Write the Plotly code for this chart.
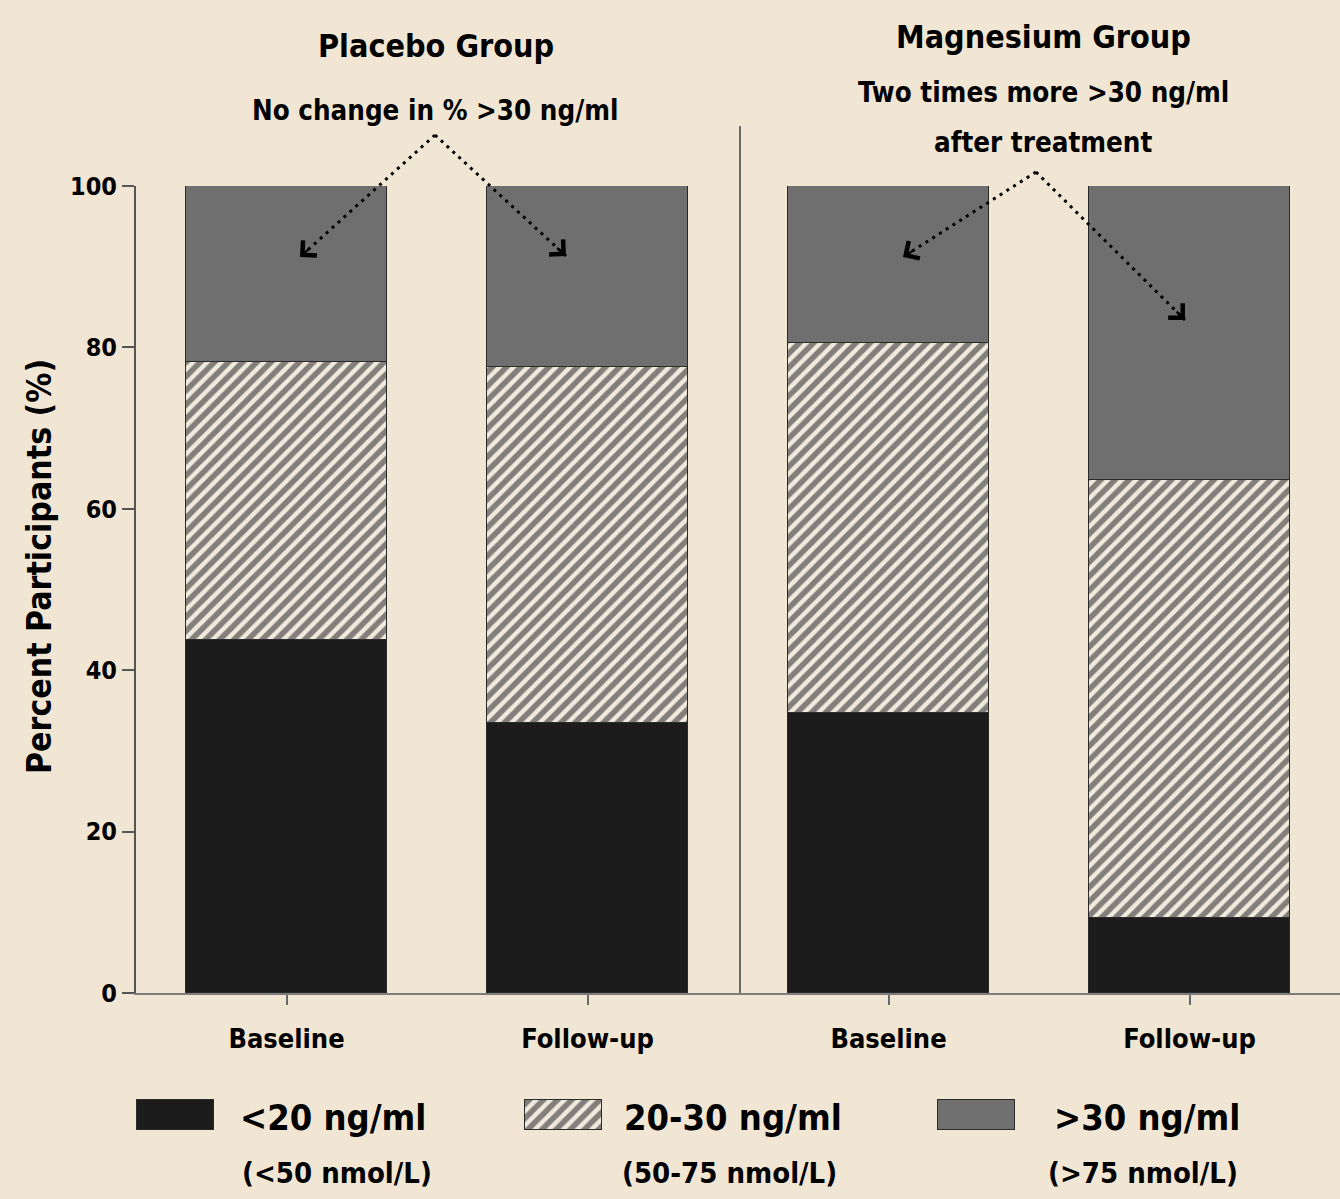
import plotly.graph_objects as go

# ---------------- data ----------------
groups = ["Placebo Group", "Placebo Group", "Magnesium Group", "Magnesium Group"]
timepoints = ["Baseline", "Follow-up", "Baseline", "Follow-up"]
below_20 = [43.7, 33.5, 34.7, 9.3]          # <20 ng/ml
between_20_30 = [34.5, 44.1, 45.9, 54.3]    # 20-30 ng/ml
above_30 = [21.8, 22.4, 19.4, 36.4]         # >30 ng/ml
y_ticks = [0, 20, 40, 60, 80, 100]
series_names = ["<20 ng/ml", "20-30 ng/ml", ">30 ng/ml"]
series_sub = ["(<50 nmol/L)", "(50-75 nmol/L)", "(>75 nmol/L)"]

# ---------------- style ----------------
W, H = 1340, 1199
ML, MR, MT, MB = 136, 0, 186, 0
PLOT_BOTTOM_PX = 993
BG = "#f1e6d3"
FONT = "Liberation Sans Narrow, DejaVu Sans Condensed, Arial Narrow, sans-serif"
C_BLACK = "#1c1c1c"
C_GRAY = "#6f6f6f"
C_EDGE = "#2a2a2a"
HATCH = dict(shape="/", fgcolor="#161616", bgcolor="#efe9de", size=10, solidity=0.55)

pw, ph = W - ML - MR, H - MT - MB
main_y0 = (H - PLOT_BOTTOM_PX) / ph


def px(xp, yp):
    """pixel position -> paper coordinates"""
    return (xp - ML) / pw, (H - yp) / ph


xpos = list(range(len(timepoints)))
bw = 0.665

fig = go.Figure()
fills = [
    dict(color=C_BLACK),
    dict(color=C_BLACK, pattern=HATCH),
    dict(color=C_GRAY),
]
for name, vals, fill in zip(series_names, [below_20, between_20_30, above_30], fills):
    fig.add_trace(go.Bar(
        x=xpos, y=vals, width=bw, name=name, showlegend=False,
        marker=dict(**fill, line=dict(color=C_EDGE, width=1.5)),
        hovertext=[f"{g} - {t}" for g, t in zip(groups, timepoints)],
    ))

# ---- custom legend swatches (on an overlay axis measured in pixels) ----
leg_centers = [175, 563.5, 976.5]
for name, fill, cx in zip(series_names, fills, leg_centers):
    fig.add_trace(go.Bar(
        x=[cx], y=[30], base=[H - 1130], width=[77], showlegend=False,
        marker=dict(**fill, line=dict(color=C_EDGE, width=1.5)),
        xaxis="x2", yaxis="y2", hoverinfo="skip",
    ))

annotations = []


def txt(text, xp, yp, size, **kw):
    x, y = px(xp, yp)
    annotations.append(dict(
        text=text, x=x, y=y, xref="paper", yref="paper", showarrow=False,
        xanchor="center", yanchor="middle",
        font=dict(family=FONT, size=size, color="black", weight="bold"), **kw))


txt("Placebo Group", 436, 46, 32)
txt("No change in % >30 ng/ml", 435, 110, 27.5)
txt("Magnesium Group", 1043, 37, 32)
txt("Two times more >30 ng/ml", 1043, 92, 27.5)
txt("after treatment", 1043, 142, 27.5)
txt("Percent Participants (%)", 39, 567, 33.5, textangle=-90)

leg_text_x = [333, 733, 1147]
leg_sub_x = [337, 729, 1143]
for name, sub, tx, sx in zip(series_names, series_sub, leg_text_x, leg_sub_x):
    txt(name, tx, 1117, 36)
    txt(sub, sx, 1173, 29)

# ---- dotted arrows ----
shapes = []
arrows = [((435, 135), (300, 257)), ((435, 135), (566, 256)),
          ((1036, 172), (903, 257)), ((1036, 172), (1185, 320))]
for (ox, oy), (tx, ty) in arrows:
    x0, y0 = px(ox, oy)
    x1, y1 = px(tx, ty)
    shapes.append(dict(type="line", xref="paper", yref="paper", x0=x0, y0=y0, x1=x1, y1=y1,
                       line=dict(color="black", width=3, dash="3px,5px")))
    L = ((ox - tx) ** 2 + (oy - ty) ** 2) ** 0.5
    head = 14
    annotations.append(dict(
        text="", x=x1, y=y1, xref="paper", yref="paper", showarrow=True,
        ax=(ox - tx) / L * head, ay=(oy - ty) / L * head, axref="pixel", ayref="pixel",
        arrowhead=4, arrowsize=1.8, arrowwidth=2.2, arrowcolor="black"))

# ---- group divider ----
dx, _ = px(740, 0)
_, dy0 = px(0, 993)
_, dy1 = px(0, 126)
shapes.append(dict(type="line", xref="paper", yref="paper", x0=dx, x1=dx, y0=dy0, y1=dy1,
                   line=dict(color="#6a6a6a", width=2)))

fig.update_layout(
    width=W, height=H, autosize=False,
    margin=dict(l=ML, r=MR, t=MT, b=MB, autoexpand=False),
    paper_bgcolor=BG, plot_bgcolor=BG,
    barmode="stack", bargap=0,
    font=dict(family=FONT, color="black", weight="bold"),
    xaxis=dict(
        domain=[0, 1], range=[-0.5, len(timepoints) - 0.5], automargin=False,
        tickvals=xpos, ticktext=timepoints,
        showline=True, linecolor="#7d7d7d", linewidth=2,
        ticks="outside", ticklen=10, tickwidth=2, tickcolor="#6a6a6a",
        tickfont=dict(family=FONT, size=27, color="black", weight="bold"),
        ticklabelstandoff=11,
        showgrid=False, zeroline=False, fixedrange=True,
    ),
    yaxis=dict(
        domain=[main_y0, 1], range=[0, 100], automargin=False,
        tickvals=y_ticks,
        showline=True, linecolor="#555555", linewidth=2,
        ticks="outside", ticklen=12, tickwidth=2, tickcolor="#555555",
        tickfont=dict(family=FONT, size=25, color="black", weight="bold"),
        showgrid=False, zeroline=False, fixedrange=True,
    ),
    xaxis2=dict(domain=[0, 1], range=[ML, W - MR], visible=False, anchor="y2",
                fixedrange=True, automargin=False),
    yaxis2=dict(domain=[0, main_y0 - 0.005], range=[0, (main_y0 - 0.005) * ph], visible=False,
                anchor="x2", fixedrange=True, automargin=False),
    annotations=annotations,
    shapes=shapes,
    showlegend=False,
)

fig.write_html("out.html", config={"displayModeBar": False},
               post_script="document.body.style.margin='0px';")
